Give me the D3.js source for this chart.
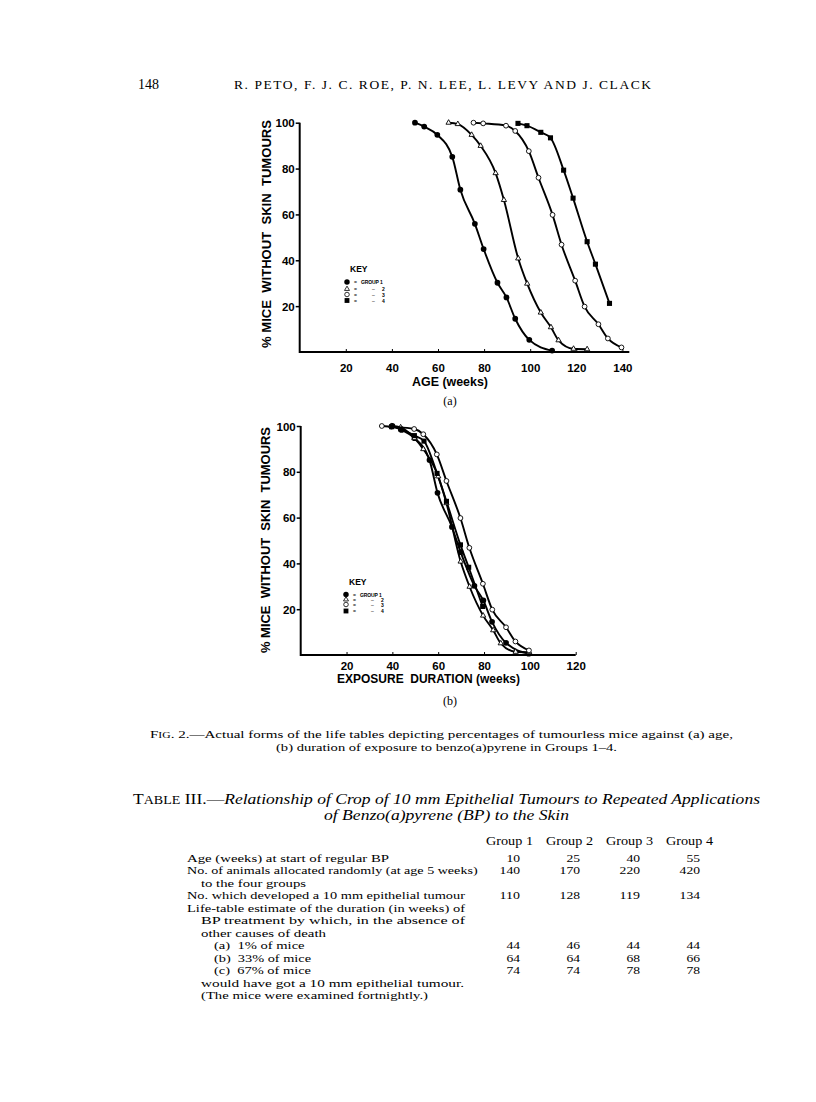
<!DOCTYPE html>
<html><head><meta charset="utf-8">
<script src="https://cdn.jsdelivr.net/npm/d3@7"></script>
<style>html,body{margin:0;padding:0;background:#fff}</style>
</head><body><svg id="page" width="816" height="1102"></svg>
<script>
// ---------- DATA ----------
const groupNames = ["GROUP 1", "2", "3", "4"];
// (a) % mice without skin tumours vs age (weeks)
const ageGroup1 = [[50,100],[54,98.3],[59.7,94.7],[66.2,85.1],[69.7,70.8],[76,55.9],[79.8,44.9],[85.8,30.2],[89.7,23.8],[93.5,14.5],[99.6,5.3],[109.5,0.6]];
const ageGroup2 = [[64.6,100],[68.6,99.4],[74.6,94.7],[78.5,89.9],[85,78],[88.6,66.3],[94.8,40.8],[98.7,29.8],[104.6,17.2],[109,10.8],[112.3,5.1],[118.8,1.4],[124.7,1.2]];
const ageGroup3 = [[75.4,100],[79.6,99.7],[89.5,98.7],[93.5,96.4],[99.4,87.6],[103.6,76],[109.7,59.8],[113.6,46.8],[119.5,31.1],[123.6,19.8],[129.6,12.1],[133.7,5.9],[139.6,2]];
const ageGroup4 = [[94.7,99.7],[98.6,98.7],[104.6,95.8],[108.8,93.4],[114.5,79.3],[118.6,67.1],[124.7,48.1],[128.3,38.3],[134.4,21.2]];
// (b) % mice without skin tumours vs exposure duration (weeks)
const expGroup1 = [[40,100],[44,98.3],[49.7,94.7],[56.2,85.1],[59.7,70.8],[66,55.9],[69.8,44.9],[75.8,30.2],[79.7,23.8],[83.5,14.5],[89.6,5.3],[99.5,0.6]];
const expGroup2 = [[39.6,100],[43.6,99.4],[49.6,94.7],[53.5,89.9],[60,78],[63.6,66.3],[69.8,40.8],[73.7,29.8],[79.6,17.2],[84,10.8],[87.3,5.1],[93.8,1.4],[99.7,1.2]];
const expGroup3 = [[35.4,100],[39.6,99.7],[49.5,98.7],[53.5,96.4],[59.4,87.6],[63.6,76],[69.7,59.8],[73.6,46.8],[79.5,31.1],[83.6,19.8],[89.6,12.1],[93.7,5.9],[99.6,2]];
const expGroup4 = [[39.7,99.7],[43.6,98.7],[49.6,95.8],[53.8,93.4],[59.5,79.3],[63.6,67.1],[69.7,48.1],[73.3,38.3],[79.4,21.2]];
const yTicks = [20,40,60,80,100];
const xTicksA = [20,40,60,80,100,120,140];
const xTicksB = [20,40,60,80,100,120];

// Table III
const tableGroups = ["Group 1","Group 2","Group 3","Group 4"];
const ageAtStart = [10,25,40,55];
const allocated = [140,170,220,420];
const developed = [110,128,119,134];
const pct1 = [44,46,44,44];
const pct33 = [64,64,68,66];
const pct67 = [74,74,78,78];
const tableLabels = [
 "Age (weeks) at start of regular BP",
 "No. of animals allocated randomly (at age 5 weeks)",
 "to the four groups",
 "No. which developed a 10 mm epithelial tumour",
 "Life-table estimate of the duration (in weeks) of",
 "BP treatment by which, in the absence of",
 "other causes of death",
 "(a)  1% of mice",
 "(b)  33% of mice",
 "(c)  67% of mice",
 "would have got a 10 mm epithelial tumour.",
 "(The mice were examined fortnightly.)"
];

// ---------- DRAW ----------
const svg = d3.select("#page");
svg.append("rect").attr("width",816).attr("height",1102).attr("fill","#fff");
const SERIF = "'Liberation Serif','DejaVu Serif',serif";
const SANS = "'Liberation Sans',Arial,sans-serif";

// running head
svg.append("text").attr("x",138).attr("y",89).attr("font-family",SERIF).attr("font-size",14)
  .attr("textLength",21).attr("lengthAdjust","spacingAndGlyphs").text("148");
svg.append("text").attr("x",234).attr("y",89).attr("font-family",SERIF).attr("font-size",13.5)
  .attr("textLength",417).attr("lengthAdjust","spacing")
  .text("R. PETO, F. J. C. ROE, P. N. LEE, L. LEVY AND J. CLACK");

const markers = [
  {type:d3.symbolCircle, size:26, fill:"#000", stroke:"none"},
  {type:d3.symbolTriangle, size:12, fill:"#fff", stroke:"#000"},
  {type:d3.symbolCircle, size:18, fill:"#fff", stroke:"#000"},
  {type:d3.symbolSquare, size:26, fill:"#000", stroke:"none"}
];

function drawChart(o){
  const g = svg.append("g");
  const x = d3.scaleLinear().domain([0,o.xMax]).range([o.x0,o.x1]);
  const y = d3.scaleLinear().domain([0,100]).range([o.yBottom,o.yTop]);
  // axes
  const ya = g.append("g").attr("transform",`translate(${x(0)},0)`)
    .call(d3.axisLeft(y).tickValues(yTicks).tickSize(4).tickPadding(1));
  ya.select(".domain").remove();
  ya.selectAll("line").attr("stroke-width",1.5);
  ya.selectAll("text").attr("font-family",SANS).attr("font-weight","bold").attr("font-size",11.5).attr("dy","0.36em");
  const xa = g.append("g").attr("transform",`translate(0,${y(0)})`)
    .call(d3.axisBottom(x).tickValues(o.xTicks).tickSize(-3));
  xa.select(".domain").remove();
  xa.selectAll("line").attr("stroke-width",1);
  xa.selectAll("text").attr("font-family",SANS).attr("font-weight","bold").attr("font-size",11.5)
    .attr("y",o.tickLabelDy).attr("dy",0);
  g.append("line").attr("x1",x(0)).attr("x2",x(o.axisEnd)).attr("y1",y(0)).attr("y2",y(0))
    .attr("stroke","#000").attr("stroke-width",2);
  g.append("line").attr("x1",x(0)).attr("x2",x(0)).attr("y1",y(0)+1).attr("y2",y(100))
    .attr("stroke","#000").attr("stroke-width",2);
  // labels
  g.append("text").attr("transform",`translate(${o.yLabelX},${o.yLabelY}) rotate(-90)`)
    .attr("text-anchor","middle").attr("dy","0.35em")
    .attr("font-family",SANS).attr("font-weight","bold").attr("font-size",13.5)
    .attr("textLength",o.yLabelLen).attr("lengthAdjust","spacingAndGlyphs")
    .attr("xml:space","preserve")
    .text("% MICE  WITHOUT  SKIN  TUMOURS");
  g.append("text").attr("x",o.xLabelX).attr("y",o.xLabelY)
    .attr("font-family",SANS).attr("font-weight","bold").attr("font-size",13.5)
    .attr("textLength",o.xLabelLen).attr("lengthAdjust","spacingAndGlyphs")
    .attr("xml:space","preserve")
    .text(o.xLabel);
  g.append("text").attr("x",o.subX).attr("y",o.subY).attr("text-anchor","middle")
    .attr("font-family",SERIF).attr("font-size",12).text(o.sub);
  // series
  const line = d3.line().x(d=>x(d[0])).y(d=>y(d[1])).curve(d3.curveMonotoneX);
  o.series.forEach((s,i)=>{
    g.append("path").attr("d",line(s)).attr("fill","none").attr("stroke","#000").attr("stroke-width",1.9);
  });
  o.series.forEach((s,i)=>{
    const m = markers[i];
    g.selectAll(null).data(s).join("path")
      .attr("transform",d=>`translate(${x(d[0])},${y(d[1])})`)
      .attr("d",d3.symbol().type(m.type).size(m.size))
      .attr("fill",m.fill).attr("stroke",m.stroke).attr("stroke-width",0.9);
  });
  // key
  const k = g.append("g").attr("transform",`translate(${o.keyX},${o.keyY})`);
  k.append("text").attr("x",3).attr("y",0).attr("font-family",SANS).attr("font-weight","bold").attr("font-size",8.5).text("KEY");
  groupNames.forEach((nm,i)=>{
    const ry = o.keyRows[i];
    const m = markers[i];
    k.append("path").attr("transform",`translate(0,${ry})`)
      .attr("d",d3.symbol().type(m.type).size(m.size*0.9))
      .attr("fill",m.fill).attr("stroke",m.stroke).attr("stroke-width",0.8);
    k.append("text").attr("x",7).attr("y",ry+2).attr("font-family",SANS).attr("font-weight","bold").attr("font-size",5).text("=");
    if(i===0){
      k.append("text").attr("x",14).attr("y",ry+2).attr("font-family",SANS).attr("font-weight","bold").attr("font-size",5)
        .attr("letter-spacing",-0.1).text(nm);
    } else {
      k.append("text").attr("x",25).attr("y",ry+2).attr("font-family",SANS).attr("font-size",5).text("–");
      k.append("text").attr("x",35).attr("y",ry+2).attr("font-family",SANS).attr("font-weight","bold").attr("font-size",5).text(nm);
    }
  });
}

drawChart({
  xMax:140, x0:299.7, x1:622.4, yBottom:352, yTop:122.7, axisEnd:143,
  xTicks:xTicksA, tickLabelDy:20,
  yLabelX:266.7, yLabelY:234, yLabelLen:228,
  xLabel:"AGE (weeks)", xLabelX:412, xLabelY:386, xLabelLen:76,
  sub:"(a)", subX:450, subY:405,
  series:[ageGroup1,ageGroup2,ageGroup3,ageGroup4],
  keyX:347, keyY:272, keyRows:[10,17,22.5,28.5]
});
drawChart({
  xMax:120, x0:300.7, x1:575.7, yBottom:655, yTop:426, axisEnd:120,
  xTicks:xTicksB, tickLabelDy:14.5,
  yLabelX:265.5, yLabelY:540, yLabelLen:226,
  xLabel:"EXPOSURE  DURATION (weeks)", xLabelX:337, xLabelY:683, xLabelLen:183,
  sub:"(b)", subX:450, subY:705,
  series:[expGroup1,expGroup2,expGroup3,expGroup4],
  keyX:346, keyY:585, keyRows:[9.5,14.5,19.5,26]
});

// caption
const cap1 = svg.append("text").attr("x",150).attr("y",738).attr("font-family",SERIF).attr("font-size",11)
  .attr("textLength",583).attr("lengthAdjust","spacingAndGlyphs");
cap1.append("tspan").text("F");
cap1.append("tspan").attr("font-size",8.5).text("IG");
cap1.append("tspan").text(". 2.—Actual forms of the life tables depicting percentages of tumourless mice against (a) age,");
svg.append("text").attr("x",276).attr("y",750.5).attr("font-family",SERIF).attr("font-size",11)
  .attr("textLength",341).attr("lengthAdjust","spacingAndGlyphs")
  .text("(b) duration of exposure to benzo(a)pyrene in Groups 1–4.");

// table title
const t1 = svg.append("text").attr("x",133).attr("y",804).attr("font-family",SERIF).attr("font-size",15)
  .attr("textLength",627).attr("lengthAdjust","spacingAndGlyphs");
t1.append("tspan").text("T");
t1.append("tspan").attr("font-size",12).text("ABLE");
t1.append("tspan").text(" III.—");
t1.append("tspan").attr("font-style","italic").text("Relationship of Crop of 10 mm Epithelial Tumours to Repeated Applications");
svg.append("text").attr("x",324).attr("y",820).attr("font-family",SERIF).attr("font-size",15).attr("font-style","italic")
  .attr("textLength",245).attr("lengthAdjust","spacingAndGlyphs")
  .text("of Benzo(a)pyrene (BP) to the Skin");

// table body
const colRight = [520,580,640,700];
const colCenter = [509.5,569.5,629.5,689.5];
const rowY0 = 862, rowStep = 12.45;
tableGroups.forEach((gname,i)=>{
  svg.append("text").attr("x",colCenter[i]).attr("y",845).attr("text-anchor","middle")
    .attr("font-family",SERIF).attr("font-size",11.5).attr("textLength",47).attr("lengthAdjust","spacingAndGlyphs").text(gname);
});
const labelX = [187,187,201,187,187,201,201,214,214,214,201,201];
const labelEnd = [389,477.6,306,465,465,465,326,304.6,311,311,464,428];
tableLabels.forEach((lab,i)=>{
  svg.append("text").attr("x",labelX[i]).attr("y",rowY0+i*rowStep)
    .attr("font-family",SERIF).attr("font-size",11)
    .attr("textLength",labelEnd[i]-labelX[i]).attr("lengthAdjust","spacingAndGlyphs")
    .attr("xml:space","preserve").text(lab);
});
const valueRows = [[0,ageAtStart],[1,allocated],[3,developed],[7,pct1],[8,pct33],[9,pct67]];
valueRows.forEach(([r,vals])=>{
  vals.forEach((v,i)=>{
    const w = String(v).length*6.8;
    svg.append("text").attr("x",colRight[i]-w).attr("y",rowY0+r*rowStep)
      .attr("font-family",SERIF).attr("font-size",11)
      .attr("textLength",w).attr("lengthAdjust","spacingAndGlyphs").text(v);
  });
});
</script></body></html>
